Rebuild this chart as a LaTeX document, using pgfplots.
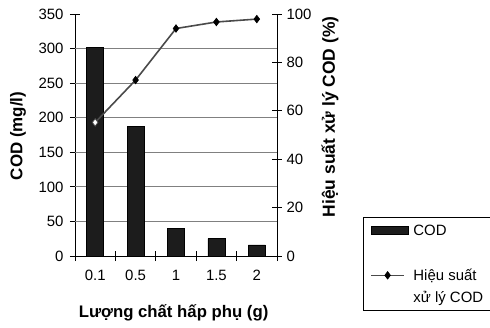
\documentclass[border=0pt]{standalone}
\usepackage{fontspec}
\setmainfont{Liberation Sans}
\usepackage{pgfplots}
\pgfplotsset{compat=1.18}
\definecolor{barcol}{HTML}{1C1C1C}
\definecolor{linecol}{HTML}{4A4A4A}
\definecolor{gridcol}{HTML}{808080}
\pgfplotsset{
  mylineleg/.style={legend image code/.code={\draw[linecol, line width=1.6pt] (0bp,5.5bp) -- (33bp,5.5bp); \draw[black, fill=black, line width=0.6pt] plot[mark=diamond*, mark size=3.8bp] coordinates {(16.5bp,5.5bp)};}},
  mybarleg/.style={legend image code/.code={\draw[fill=barcol, draw=black, line width=0.6pt] (0bp,1.5bp) rectangle (37bp,9.5bp);}},
}
\begin{document}
\begin{tikzpicture}
\begin{axis}[
  scale only axis, width=202bp, height=242bp,
  xmin=-0.5, xmax=4.5, ymin=0, ymax=350,
  axis x line*=bottom, axis y line*=left,
  axis line style={black, line width=0.8pt},
  xtick={-0.5,0.5,...,4.5}, xticklabels={0.1,0.5,1,1.5,2},
  x tick label as interval,
  ytick={0,50,...,350},
  extra y ticks={50,100,...,300},
  extra y tick style={grid=major, major tick length=0pt, yticklabels={}},
  major grid style={gridcol, line width=0.8pt},
  tick align=center, major tick length=10bp,
  tick style={black, line width=0.8pt},
  /pgf/number format/assume math mode=true,
  tick label style={font=\fontsize{15}{18}\selectfont},
  yticklabel style={xshift=-3bp},
  xticklabel style={yshift=-6bp},
  xlabel={Lượng chất hấp phụ (g)},
  ylabel={COD (mg/l)},
  xlabel style={font=\bfseries\fontsize{16.8}{19}\selectfont, at={(axis description cs:0.488,-0.2355)}, anchor=center},
  ylabel style={font=\bfseries\fontsize{17}{19}\selectfont, at={(axis description cs:-0.282,0.496)}, anchor=center},
]
\addplot[ybar, bar width=17bp, fill=barcol, draw=black, line width=0.6pt] coordinates {(0,302) (1,187) (2,40) (3,25) (4,16)};
\end{axis}
\begin{axis}[
  scale only axis, width=202bp, height=242bp,
  xmin=-0.5, xmax=4.5, ymin=0, ymax=100,
  axis x line=none, axis y line*=right,
  axis line style={black, line width=0.8pt},
  ytick={0,20,...,100},
  tick align=center, major tick length=10bp,
  tick style={black, line width=0.8pt},
  /pgf/number format/assume math mode=true,
  tick label style={font=\fontsize{15}{18}\selectfont},
  yticklabel style={xshift=1bp},
  ylabel={Hiệu suất xử lý COD (\%)},
  ylabel style={font=\bfseries\fontsize{17.5}{19}\selectfont, at={(axis description cs:1.262,0.575)}, anchor=center, rotate=0},
  legend style={at={(axis description cs:1.426,0.161)}, anchor=north west,
    draw=black, line width=0.6pt, inner xsep=7bp, inner ysep=0pt,
    row sep=0pt, column sep=5bp,
    font=\fontsize{15}{18}\selectfont,
    nodes={inner sep=0pt, text height=12bp, text depth=10bp}},
  legend cell align=left,
  legend style={cells={anchor=base west}},
]
\addlegendimage{mybarleg}
\addlegendentry[text height=18.5bp, text depth=33bp]{COD}
\addlegendimage{mylineleg}
\addlegendentry{Hiệu suất}
\addlegendimage{empty legend}
\addlegendentry[text depth=7.5bp]{xử lý COD}
\addplot[forget plot, linecol, line width=1.6pt, mark=diamond*, mark size=3.8bp, mark options={fill=black, draw=black, line width=0.6pt}]
  coordinates {(0,55.2) (1,72.7) (2,94) (3,96.7) (4,97.9)};
\addplot[forget plot, only marks, mark=diamond*, mark size=3.8bp, mark options={fill=white, draw=linecol, line width=0.8pt}]
  coordinates {(0,55.2)};
\end{axis}
\pgfresetboundingbox
\useasboundingbox (-75bp,-72bp) rectangle (415bp,256bp);
\end{tikzpicture}
\end{document}
